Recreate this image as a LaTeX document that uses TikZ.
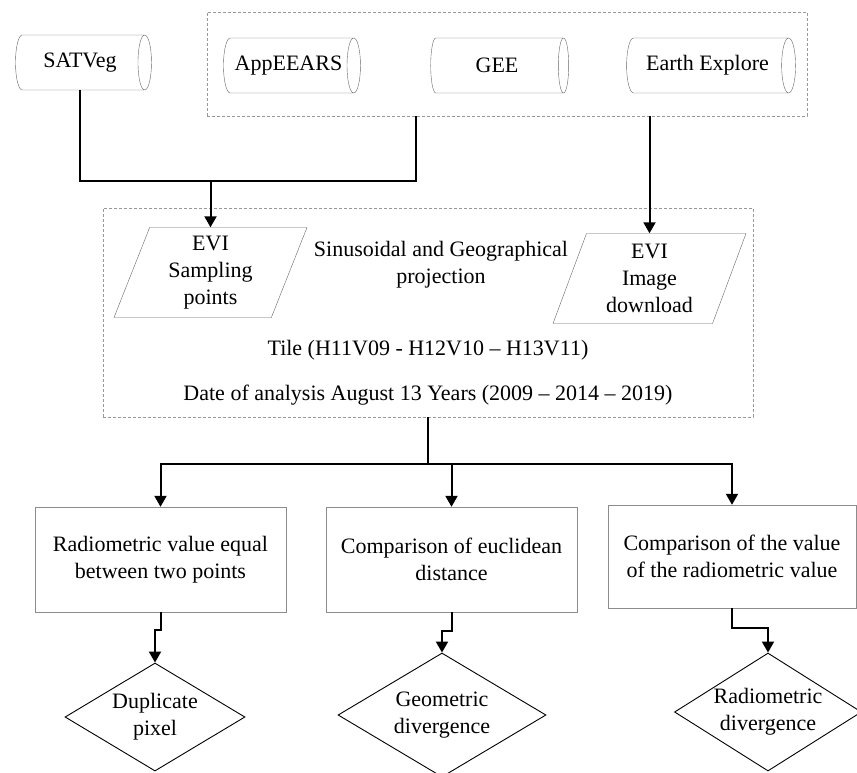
\documentclass[tikz,border=0pt]{standalone}
\usepackage{fontspec}
\setmainfont{Liberation Serif}
\usetikzlibrary{shapes.geometric,arrows.meta}
\tikzset {
base/.style={font=\fontsize{22}{27}\selectfont,align=center},
quelle/.style={base,shape=cylinder,draw=black!60,aspect=0.7,minimum height=137pt,minimum width=55pt,inner sep=0pt},
daten/.style={base,shape=trapezium,trapezium left angle=64,trapezium right angle=116,trapezium stretches body,draw=black!60,minimum width=193pt,minimum height=90pt,inner sep=0pt},
schritt/.style={base,shape=rectangle,draw=black!45,minimum width=251pt,minimum height=105pt},
ergebnis/.style={base,shape=diamond,draw=black,line width=0.9pt,aspect=1.6,inner sep=0pt},
gruppe/.style={shape=rectangle,draw=black!40,dash pattern=on 3pt off 2pt,line width=0.8pt},
verbindung/.style={line width=2pt}
}

\begin{document}
\begin{tikzpicture}
[>={Triangle[length=11pt,width=12pt]},x=1pt,y=-1pt]
\useasboundingbox (0,0) rectangle (857,772);
% dashed groups
\node[gruppe,minimum width=600pt,minimum height=104pt] (quellen) at (507,64) {};
\node[gruppe,minimum width=650pt,minimum height=209pt] (aufbereitung) at (428,312.5) {};

% data sources
\node[quelle,minimum height=136pt] (satveg) at (80,62.5) {SATVeg};
\node[quelle] (appeears) at (288.5,65.5) {AppEEARS};
\node[quelle,minimum height=138pt] (gee) at (497,65.5) {GEE};
\node[quelle,minimum height=169pt] (earth explore) at (707.5,65.5) {Earth Explore};

% inputs
\node[daten] (evi punkte) at (210.5,272.5) {EVI\\Sampling\\points};
\node[daten] (evi bild) at (649.5,278.5) {EVI\\Image\\download};
\node[base] (projektion) at (441,265) {Sinusoidal and Geographical\\projection};
\node[base] (kachel) at (428,350) {Tile (H11V09 - H12V10 -- H13V11)};
\node[base] (datum) at (428,395) {Date of analysis August 13 Years (2009 -- 2014 -- 2019)};

% comparisons
\node[schritt] (gleicher wert) at (160.5,559.5) {Radiometric value equal\\between two points};
\node[schritt] (euklid) at (451.5,559.5) {Comparison of euclidean\\distance};
\node[schritt,minimum width=248pt,minimum height=103pt] (radiometrie) at (732,556.5) {Comparison of the value\\of the radiometric value};

% results
\node[ergebnis,minimum width=180pt,minimum height=108pt] (duplikat) at (155,717) {Duplicate\\pixel};
\node[ergebnis,minimum width=208pt,minimum height=124pt] (geo div) at (442,715) {Geometric\\divergence};
\node[ergebnis,minimum width=187pt,minimum height=118pt] (rad div) at (768,712) {Radiometric\\divergence};

\coordinate (treffen) at (416,181);
\coordinate (verzweigung) at (428,464);

\draw[verbindung] (satveg.south) |- (treffen) -- (treffen |- quellen.south);
\draw[verbindung,->] (treffen -| evi punkte.north) -- (evi punkte.north);
\draw[verbindung,->] (quellen.south -| evi bild.north) -- (evi bild.north);
\draw[verbindung] (aufbereitung.south) -- (verzweigung);
\draw[verbindung,->] (verzweigung) -| (gleicher wert.north);
\draw[verbindung,->] (verzweigung) -| (euklid.north);
\draw[verbindung,->] (verzweigung) -| (radiometrie.north);
\draw[verbindung,->] (gleicher wert.south) -- ++(0,18) -| (duplikat.north);
\draw[verbindung,->] (euklid.south) -- ++(0,19) -| (geo div.north);
\draw[verbindung,->] (radiometrie.south) -- ++(0,20) -| (rad div.north);
\end{tikzpicture}
\end{document}
